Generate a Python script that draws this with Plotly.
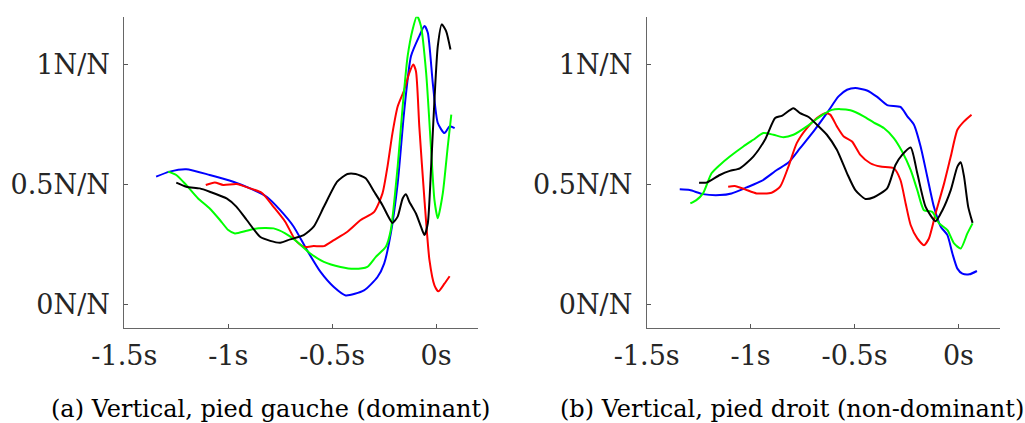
import plotly.graph_objects as go

# ---------------- data: left panel (a) ----------------
a_blue_t = [-1.347, -1.282, -1.202, -1.089, -0.976, -0.895, -0.815, -0.75, -0.685, -0.621, -0.556, -0.492, -0.435,
            -0.347, -0.282, -0.25, -0.218, -0.185, -0.153, -0.121, -0.081, -0.056, -0.04, -0.016, 0.008, 0.04, 0.065, 0.089]
a_blue_v = [0.532, 0.553, 0.563, 0.539, 0.511, 0.483, 0.448, 0.392, 0.323, 0.225, 0.134, 0.071, 0.036,
            0.057, 0.113, 0.169, 0.295, 0.504, 0.811, 1.035, 1.119, 1.161, 1.133, 0.922, 0.756, 0.714, 0.742, 0.735]

a_red_t = [-1.108, -1.065, -1.024, -0.96, -0.895, -0.839, -0.782, -0.726, -0.677, -0.637, -0.589, -0.54, -0.492,
           -0.427, -0.363, -0.298, -0.258, -0.234, -0.21, -0.185, -0.153, -0.129, -0.11, -0.097, -0.081, -0.056,
           -0.032, -0.008, 0.011, 0.04, 0.065]
a_red_v = [0.497, 0.508, 0.497, 0.501, 0.483, 0.465, 0.406, 0.344, 0.267, 0.239, 0.242, 0.242, 0.267,
           0.302, 0.351, 0.385, 0.462, 0.574, 0.714, 0.825, 0.895, 0.965, 1.0, 0.972, 0.742, 0.434,
           0.183, 0.078, 0.053, 0.085, 0.116]

a_green_t = [-1.29, -1.25, -1.202, -1.145, -1.089, -1.04, -1.0, -0.968, -0.911, -0.855, -0.782, -0.726, -0.669,
             -0.605, -0.54, -0.46, -0.395, -0.331, -0.29, -0.242, -0.218, -0.185, -0.161, -0.137, -0.113, -0.092,
             -0.073, -0.048, -0.024, -0.008, 0.008, 0.032, 0.056, 0.073]
a_green_v = [0.553, 0.539, 0.497, 0.441, 0.399, 0.351, 0.309, 0.295, 0.306, 0.317, 0.316, 0.295, 0.26,
             0.211, 0.176, 0.155, 0.147, 0.155, 0.197, 0.239, 0.309, 0.574, 0.825, 1.035, 1.147, 1.203,
             1.161, 0.965, 0.644, 0.434, 0.358, 0.462, 0.658, 0.791]

a_black_t = [-1.25, -1.202, -1.137, -1.089, -1.008, -0.96, -0.911, -0.847, -0.798, -0.75, -0.702, -0.637, -0.589,
             -0.54, -0.476, -0.427, -0.387, -0.339, -0.298, -0.258, -0.234, -0.21, -0.185, -0.161, -0.145, -0.129,
             -0.097, -0.073, -0.056, -0.04, -0.024, -0.008, 0.008, 0.027, 0.048, 0.069]
a_black_v = [0.507, 0.49, 0.483, 0.469, 0.441, 0.406, 0.351, 0.281, 0.264, 0.256, 0.27, 0.288, 0.323,
             0.406, 0.511, 0.543, 0.543, 0.525, 0.469, 0.413, 0.372, 0.339, 0.365, 0.441, 0.459, 0.427,
             0.378, 0.323, 0.288, 0.337, 0.574, 0.853, 1.077, 1.168, 1.14, 1.063]

# ---------------- data: right panel (b) ----------------
b_blue_t = [-1.341, -1.293, -1.229, -1.148, -1.092, -1.019, -0.947, -0.874, -0.818, -0.762, -0.697, -0.633, -0.577,
            -0.536, -0.496, -0.44, -0.391, -0.343, -0.279, -0.246, -0.214, -0.182, -0.15, -0.118, -0.085, -0.053,
            -0.029, -0.005, 0.019, 0.052, 0.089]
b_blue_v = [0.479, 0.476, 0.459, 0.455, 0.462, 0.487, 0.514, 0.56, 0.591, 0.651, 0.721, 0.797, 0.867,
            0.895, 0.902, 0.892, 0.865, 0.831, 0.823, 0.784, 0.749, 0.658, 0.532, 0.406, 0.323, 0.288,
            0.211, 0.148, 0.127, 0.124, 0.138]

b_red_t = [-1.108, -1.076, -1.027, -0.971, -0.899, -0.858, -0.818, -0.778, -0.729, -0.681, -0.641, -0.617, -0.585,
           -0.552, -0.512, -0.472, -0.424, -0.375, -0.311, -0.279, -0.254, -0.23, -0.198, -0.166, -0.142, -0.11,
           -0.069, -0.037, -0.005, 0.027, 0.063]
b_red_v = [0.49, 0.493, 0.479, 0.462, 0.465, 0.49, 0.574, 0.672, 0.735, 0.777, 0.797, 0.791, 0.742,
           0.7, 0.679, 0.623, 0.588, 0.574, 0.567, 0.518, 0.42, 0.33, 0.274, 0.246, 0.274, 0.378,
           0.504, 0.616, 0.728, 0.763, 0.791]

b_green_t = [-1.29, -1.261, -1.229, -1.188, -1.148, -1.1, -1.035, -0.987, -0.939, -0.89, -0.842, -0.794, -0.729,
             -0.665, -0.609, -0.568, -0.52, -0.456, -0.407, -0.359, -0.311, -0.271, -0.23, -0.198, -0.166, -0.126,
             -0.093, -0.053, -0.021, 0.011, 0.043, 0.068]
b_green_v = [0.42, 0.434, 0.462, 0.546, 0.581, 0.616, 0.658, 0.686, 0.714, 0.707, 0.697, 0.707, 0.742,
             0.784, 0.811, 0.814, 0.809, 0.784, 0.758, 0.735, 0.693, 0.637, 0.56, 0.476, 0.392, 0.385,
             0.337, 0.309, 0.253, 0.232, 0.295, 0.337]

b_black_t = [-1.248, -1.213, -1.148, -1.1, -1.052, -0.987, -0.931, -0.882, -0.85, -0.794, -0.762, -0.721, -0.681,
             -0.633, -0.585, -0.536, -0.496, -0.448, -0.407, -0.343, -0.303, -0.271, -0.23, -0.198, -0.158, -0.11,
             -0.077, -0.037, -0.005, 0.011, 0.027, 0.047, 0.068]
b_black_v = [0.507, 0.507, 0.539, 0.556, 0.567, 0.616, 0.686, 0.777, 0.786, 0.818, 0.797, 0.781, 0.749,
             0.707, 0.644, 0.546, 0.476, 0.439, 0.446, 0.483, 0.581, 0.623, 0.654, 0.546, 0.406, 0.346,
             0.392, 0.476, 0.574, 0.592, 0.532, 0.406, 0.339]

x_tick_vals = [-1.5, -1, -0.5, 0]
x_tick_text = ["-1.5s", "-1s", "-0.5s", "0s"]
y_tick_vals = [0, 0.5, 1]
y_tick_text = ["0N/N", "0.5N/N", "1N/N"]
captions = ["(a) Vertical, pied gauche (dominant)", "(b) Vertical, pied droit (non-dominant)"]

colors = {"blue": "#0000FF", "red": "#FF0000", "green": "#00FF00", "black": "#000000"}

panels = [
    [("blue", a_blue_t, a_blue_v), ("red", a_red_t, a_red_v), ("green", a_green_t, a_green_v), ("black", a_black_t, a_black_v)],
    [("blue", b_blue_t, b_blue_v), ("red", b_red_t, b_red_v), ("green", b_green_t, b_green_v), ("black", b_black_t, b_black_v)],
]

W, H = 1025, 423
fig = go.Figure()
for i, panel in enumerate(panels):
    xa = "x" if i == 0 else "x2"
    ya = "y" if i == 0 else "y2"
    for cname, t, v in panel:
        fig.add_trace(go.Scatter(x=t, y=v, mode="lines", xaxis=xa, yaxis=ya,
                                 line=dict(color=colors[cname], width=2, shape="spline", smoothing=0.6),
                                 showlegend=False, hoverinfo="skip"))

font_family = "DejaVu Serif"
tickfont = dict(family=font_family, size=27, color="#262626")

def xaxis_cfg(domain, anchor):
    return dict(domain=domain, anchor=anchor, range=[-1.5, 0.2], tickvals=x_tick_vals, ticktext=x_tick_text,
                ticks="inside", ticklen=4, tickcolor="#555", showline=True, linecolor="#666", linewidth=1,
                showgrid=False, zeroline=False, tickfont=tickfont, ticklabelstandoff=4, fixedrange=True,
                automargin=False)

def yaxis_cfg(domain, anchor):
    return dict(domain=domain, anchor=anchor, range=[-0.1, 1.2], tickvals=y_tick_vals, ticktext=y_tick_text,
                ticks="inside", ticklen=4, tickcolor="#555", showline=True, linecolor="#666", linewidth=1,
                showgrid=False, zeroline=False, tickfont=tickfont, ticklabelstandoff=8, fixedrange=True,
                automargin=False)

ydom = [(H - 328) / H, (H - 16.7) / H]
fig.update_layout(
    width=W, height=H, margin=dict(l=0, r=0, t=0, b=0, autoexpand=False),
    paper_bgcolor="white", plot_bgcolor="white",
    font=dict(family=font_family),
    xaxis=xaxis_cfg([124.3 / W, 477.7 / W], "y"),
    yaxis=yaxis_cfg(ydom, "x"),
    xaxis2=xaxis_cfg([646.7 / W, 1000 / W], "y2"),
    yaxis2=yaxis_cfg(ydom, "x2"),
    annotations=[
        dict(text=captions[0], x=49 / W, y=(H - 409) / H, xref="paper", yref="paper", xanchor="left",
             yanchor="middle", showarrow=False, font=dict(family=font_family, size=24, color="#000")),
        dict(text=captions[1], x=558 / W, y=(H - 409) / H, xref="paper", yref="paper", xanchor="left",
             yanchor="middle", showarrow=False, font=dict(family=font_family, size=24, color="#000")),
    ],
)

fig.write_html("out.html", config={"displayModeBar": False},
               post_script="document.body.style.margin='0px';document.body.style.overflow='hidden';")
